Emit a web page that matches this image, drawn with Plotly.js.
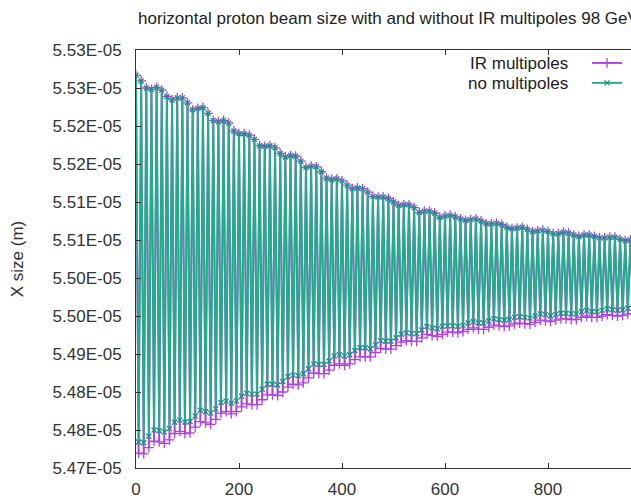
<!DOCTYPE html>
<html><head><meta charset="utf-8">
<script src="https://cdn.plot.ly/plotly-3.0.1.min.js"></script>
<style>
html,body{margin:0;padding:0;overflow:hidden;background:#fff;width:631px;height:499px}
#chart{width:670px;height:499px}
</style>
</head><body><div id="chart"></div>
<script>
// turn number of each sample = index * turnStep
const turnStep = 5;
// beam size values in units of 1e-5 m
const irMultipoles = [
5.5296,5.4759,5.5288,5.4758,5.5278,5.4767,5.5276,5.4776,5.5279,5.4775,
5.5275,5.4773,5.5266,5.4778,5.5261,5.4787,5.5264,5.4790,5.5264,5.4787,
5.5257,5.4788,5.5247,5.4796,5.5249,5.4804,5.5250,5.4802,5.5242,5.4800,
5.5232,5.4807,5.5230,5.4816,5.5232,5.4818,5.5228,5.4815,5.5217,5.4818,
5.5213,5.4825,5.5213,5.4829,5.5211,5.4828,5.5205,5.4828,5.5196,5.4835,
5.5195,5.4842,5.5196,5.4842,5.5193,5.4841,5.5185,5.4846,5.5180,5.4853,
5.5182,5.4857,5.5181,5.4856,5.5174,5.4859,5.5165,5.4866,5.5167,5.4873,
5.5166,5.4872,5.5159,5.4872,5.5150,5.4877,5.5148,5.4884,5.5149,5.4886,
5.5146,5.4884,5.5140,5.4886,5.5135,5.4892,5.5136,5.4896,5.5135,5.4896,
5.5130,5.4896,5.5124,5.4902,5.5123,5.4908,5.5123,5.4907,5.5121,5.4907,
5.5116,5.4912,5.5111,5.4917,5.5112,5.4919,5.5112,5.4918,5.5108,5.4918,
5.5101,5.4923,5.5103,5.4928,5.5103,5.4926,5.5100,5.4925,5.5094,5.4928,
5.5096,5.4931,5.5097,5.4931,5.5095,5.4930,5.5092,5.4932,5.5090,5.4935,
5.5091,5.4937,5.5092,5.4935,5.5089,5.4935,5.5085,5.4938,5.5085,5.4941,
5.5086,5.4940,5.5084,5.4939,5.5080,5.4940,5.5078,5.4943,5.5079,5.4944,
5.5080,5.4943,5.5077,5.4942,5.5074,5.4945,5.5075,5.4948,5.5076,5.4947,
5.5074,5.4946,5.5071,5.4948,5.5071,5.4950,5.5073,5.4950,5.5072,5.4949,
5.5069,5.4949,5.5067,5.4952,5.5069,5.4954,5.5069,5.4952,5.5067,5.4952,
5.5065,5.4954,5.5065,5.4956,5.5066,5.4955,5.5066,5.4954,5.5063,5.4955,
5.5061,5.4957,5.5062,5.4957,5.5063,5.4957,5.5061,5.4956,5.5059,5.4959,
5.5059];
const noMultipoles = [
5.5296,5.4775,5.5288,5.4774,5.5278,5.4783,5.5276,5.4792,5.5279,5.4791,
5.5275,5.4789,5.5266,5.4794,5.5261,5.4803,5.5264,5.4806,5.5264,5.4803,
5.5257,5.4804,5.5247,5.4812,5.5249,5.4820,5.5250,5.4818,5.5242,5.4816,
5.5232,5.4822,5.5230,5.4831,5.5232,5.4833,5.5228,5.4830,5.5217,5.4833,
5.5213,5.4840,5.5213,5.4844,5.5211,5.4843,5.5205,5.4843,5.5196,5.4850,
5.5195,5.4857,5.5196,5.4857,5.5193,5.4856,5.5185,5.4861,5.5180,5.4868,
5.5182,5.4870,5.5181,5.4869,5.5174,5.4872,5.5165,5.4879,5.5167,5.4886,
5.5166,5.4885,5.5159,5.4885,5.5150,5.4890,5.5148,5.4897,5.5149,5.4899,
5.5146,5.4897,5.5140,5.4899,5.5135,5.4905,5.5136,5.4909,5.5135,5.4909,
5.5130,5.4907,5.5124,5.4913,5.5123,5.4919,5.5123,5.4918,5.5121,5.4918,
5.5116,5.4923,5.5111,5.4928,5.5112,5.4930,5.5112,5.4929,5.5108,5.4929,
5.5101,5.4934,5.5103,5.4939,5.5103,5.4937,5.5100,5.4936,5.5094,5.4939,
5.5096,5.4940,5.5097,5.4940,5.5095,5.4939,5.5092,5.4941,5.5090,5.4944,
5.5091,5.4946,5.5092,5.4944,5.5089,5.4944,5.5085,5.4947,5.5085,5.4950,
5.5086,5.4949,5.5084,5.4948,5.5080,5.4949,5.5078,5.4952,5.5079,5.4953,
5.5080,5.4952,5.5077,5.4951,5.5074,5.4954,5.5075,5.4957,5.5076,5.4956,
5.5074,5.4954,5.5071,5.4956,5.5071,5.4958,5.5073,5.4958,5.5072,5.4957,
5.5069,5.4957,5.5067,5.4960,5.5069,5.4962,5.5069,5.4960,5.5067,5.4960,
5.5065,5.4962,5.5065,5.4964,5.5066,5.4963,5.5066,5.4962,5.5063,5.4963,
5.5061,5.4965,5.5062,5.4965,5.5063,5.4965,5.5061,5.4964,5.5059,5.4967,
5.5059];
const seriesNames = ['IR multipoles', 'no multipoles'];
const xTickLabels = ['0', '200', '400', '600', '800'];
const yTickLabels = ['5.47E-05','5.48E-05','5.48E-05','5.49E-05','5.50E-05','5.50E-05',
                     '5.51E-05','5.51E-05','5.52E-05','5.52E-05','5.53E-05','5.53E-05'];
const chartTitle = 'horizontal proton beam size with and without IR multipoles 98 GeV';
const yTitle = 'X size (m)';

// ---- presentation ----
const UNIT = 1e-5;
const X_RANGE = [0, 1000];
const Y_FIRST_TICK = 5.4738e-5, Y_TICK_STEP = 0.0054e-5;
const W = 670, H = 499;
const M = {l: 136, r: 19, t: 50, b: 31};
const FONT = 'Liberation Sans, Arial, sans-serif';
const PURPLE = '#b040e6', TEAL = '#22ad8a';
const TEAL_MARK = '#1b8f86';

const turns = irMultipoles.map((_, i) => i * turnStep);
const yTickVals = yTickLabels.map((_, k) => Y_FIRST_TICK + k * Y_TICK_STEP);
const xTickVals = xTickLabels.map(Number);

const traces = [
  {x: turns, y: irMultipoles.map(v => v * UNIT), type: 'scatter', mode: 'lines+markers',
   name: ' ', line: {color: PURPLE, width: 1.9},
   marker: {symbol: 'cross-thin', size: 7, color: PURPLE, line: {color: PURPLE, width: 1.3}}},
  {x: turns, y: noMultipoles.map(v => v * UNIT), type: 'scatter', mode: 'lines+markers',
   name: '  ', line: {color: TEAL, width: 1.9},
   marker: {symbol: 'x-thin', size: 5, color: TEAL_MARK, line: {color: TEAL_MARK, width: 1.3}}}
];

const pw = W - M.l - M.r, ph = H - M.t - M.b;
const px2x = p => (p - M.l) / pw;
const py2y = p => 1 - (p - M.t) / ph;

const axisCommon = {
  showgrid: false, zeroline: false, showline: true, linecolor: '#333', linewidth: 1,
  mirror: 'ticks', ticks: 'inside', ticklen: 5, tickcolor: '#333', tickwidth: 1,
  tickfont: {family: FONT, size: 17, color: '#333'}, tickmode: 'array'
};

const layout = {
  width: W, height: H, margin: M, paper_bgcolor: '#fff', plot_bgcolor: '#fff',
  font: {family: FONT, color: '#333'},
  title: {text: chartTitle, font: {family: FONT, size: 17, color: '#222'},
          xref: 'container', x: 138 / W, xanchor: 'left',
          yref: 'container', y: 1 - 18 / H, yanchor: 'middle'},
  xaxis: Object.assign({}, axisCommon, {range: X_RANGE, tickvals: xTickVals, ticktext: xTickLabels,
    ticklabelstandoff: 6}),
  yaxis: Object.assign({}, axisCommon, {
    range: [Y_FIRST_TICK, Y_FIRST_TICK + (yTickLabels.length - 1) * Y_TICK_STEP],
    tickvals: yTickVals, ticktext: yTickLabels, ticklabelstandoff: 10,
    title: {text: yTitle, font: {family: FONT, size: 17, color: '#333'}, standoff: 24}}),
  showlegend: true,
  legend: {x: px2x(587), y: py2y(48), xanchor: 'left', yanchor: 'top',
           bgcolor: 'rgba(0,0,0,0)', font: {family: FONT, size: 13}, itemwidth: 30},
  annotations: [
    {text: seriesNames[0], xref: 'paper', yref: 'paper', x: px2x(570), y: py2y(63),
     xanchor: 'right', yanchor: 'middle', showarrow: false, font: {family: FONT, size: 17, color: '#222'}},
    {text: seriesNames[1], xref: 'paper', yref: 'paper', x: px2x(570), y: py2y(83),
     xanchor: 'right', yanchor: 'middle', showarrow: false, font: {family: FONT, size: 17, color: '#222'}}
  ]
};

Plotly.newPlot('chart', traces, layout, {staticPlot: true, displayModeBar: false});
</script>
</body></html>
